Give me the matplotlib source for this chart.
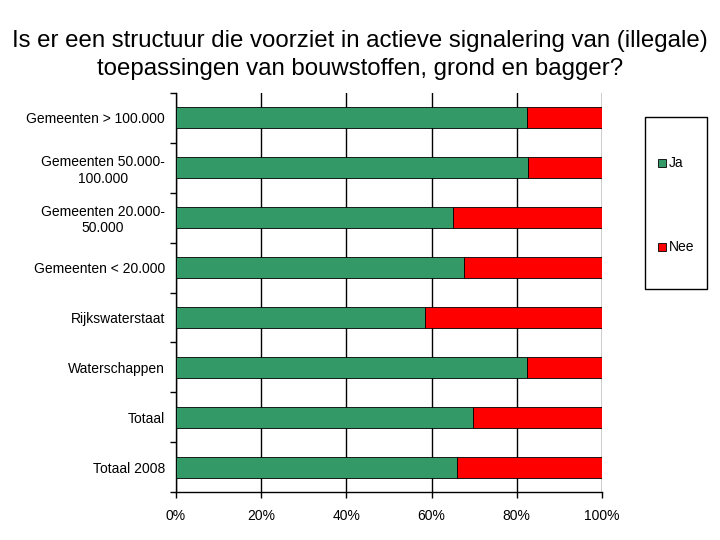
import matplotlib
matplotlib.use("Agg")
import matplotlib.pyplot as plt
import numpy as np
from matplotlib.ticker import FuncFormatter, FixedLocator
from matplotlib.patches import Rectangle

categories = ["Gemeenten > 100.000", "Gemeenten 50.000-\n100.000", "Gemeenten 20.000-\n50.000",
              "Gemeenten < 20.000", "Rijkswaterstaat", "Waterschappen", "Totaal", "Totaal 2008"]
ja = [82.5, 82.7, 65.1, 67.7, 58.5, 82.5, 69.8, 65.9]
nee = [100 - v for v in ja]
series_names = ["Ja", "Nee"]
series_colors = ["#339966", "#FF0000"]
xticks = [0, 20, 40, 60, 80, 100]
title = "Is er een structuur die voorziet in actieve signalering van (illegale)\ntoepassingen van bouwstoffen, grond en bagger?"

plt.rcParams['font.family'] = ['Liberation Sans', 'DejaVu Sans']

W, H = 720, 540
fig = plt.figure(figsize=(7.2, 5.4), dpi=100)
ax = fig.add_axes([176/W, 1-492/H, 426/W, (492-93)/H])

y = np.arange(len(categories))
ax.barh(y, ja, height=0.42, color=series_colors[0], edgecolor="black", linewidth=0.6, label=series_names[0], zorder=3)
ax.barh(y, nee, left=ja, height=0.42, color=series_colors[1], edgecolor="black", linewidth=0.6, label=series_names[1], zorder=3)

ax.set_xlim(0, 100)
ax.set_ylim(len(categories) - 0.5, -0.5)
ax.set_xticks(xticks)
ax.xaxis.set_major_formatter(FuncFormatter(lambda v, p: f"{int(v)}%"))
ax.set_yticks(y)
ax.set_yticklabels(categories, ha="right", multialignment="center")
ax.yaxis.set_minor_locator(FixedLocator(np.arange(-0.5, len(categories), 1.0)))
ax.tick_params(axis="y", which="major", length=0, pad=8, labelsize=10)
ax.tick_params(axis="y", which="minor", length=4, direction="out", width=1)
ax.tick_params(axis="x", which="major", length=4, direction="out", width=1, labelsize=10, pad=8)
ax.grid(axis="x", color="black", linewidth=1, zorder=1)
for s in ["top", "right"]:
    ax.spines[s].set_visible(False)
ax.spines["left"].set_linewidth(1)
ax.spines["bottom"].set_linewidth(1)

fig.text(0.5, 1 - 55/H, title, ha="center", va="center", fontsize=17.3, linespacing=1.38)

# legend drawn manually
fig.add_artist(Rectangle((645/W, 1-289/H), 62/W, 172/H, transform=fig.transFigure,
                         facecolor="white", edgecolor="black", linewidth=1))
for name, col, yc in zip(series_names, series_colors, [163, 247]):
    fig.add_artist(Rectangle((658/W, 1-(yc+4)/H), 8/W, 8/H, transform=fig.transFigure,
                             facecolor=col, edgecolor="black", linewidth=0.6))
    fig.text(669/W, 1-yc/H, name, ha="left", va="center", fontsize=10)

fig.savefig("out.png", dpi=100)
